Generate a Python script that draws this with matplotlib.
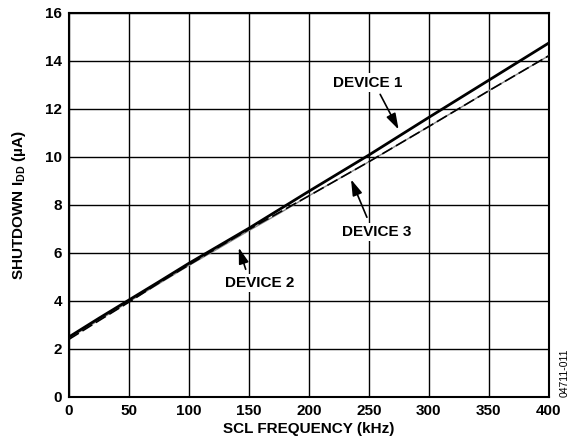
import matplotlib
matplotlib.use("Agg")
import matplotlib.pyplot as plt

freq = [0, 25, 50, 75, 100, 125, 150, 175, 200, 250, 300, 350, 400]
device1 = [2.5, 3.28, 4.04, 4.8, 5.57, 6.3, 7.03, 7.8, 8.57, 10.08, 11.65, 13.2, 14.75]
device2 = [2.45, 3.2, 3.97, 4.72, 5.48, 6.2, 6.93, 7.64, 8.38, 9.8, 11.27, 12.76, 14.22]
device3 = [2.4, 3.18, 3.95, 4.75, 5.5, 6.25, 6.98, 7.68, 8.38, 9.8, 11.27, 12.76, 14.22]
xticks = [0, 50, 100, 150, 200, 250, 300, 350, 400]
yticks = [0, 2, 4, 6, 8, 10, 12, 14, 16]

plt.rcParams['font.family'] = ['Liberation Sans', 'DejaVu Sans']
plt.rcParams['mathtext.fontset'] = 'custom'
plt.rcParams['mathtext.rm'] = 'Liberation Sans:bold'
plt.rcParams['mathtext.bf'] = 'Liberation Sans:bold'
plt.rcParams['mathtext.it'] = 'Liberation Sans:bold'

fig = plt.figure(figsize=(5.7, 4.46), dpi=100)
ax = fig.add_axes([0.121, 0.110, 0.842, 0.861])

ax.plot(freq, device2, color='#888888', lw=1.0, zorder=3)
ax.plot(freq, device3, color='black', lw=1.2, ls=(0, (7, 2.5)), zorder=4)
ax.plot(freq, device1, color='black', lw=2.0, zorder=5)

ax.set_xlim(0, 400)
ax.set_ylim(0, 16)
ax.set_xticks(xticks)
ax.set_yticks(yticks)
ax.tick_params(length=0, labelsize=11, pad=5)
for lab in ax.get_xticklabels() + ax.get_yticklabels():
    lab.set_fontweight('bold')
ax.grid(True, color='black', lw=1.0)
ax.set_axisbelow(True)
for s in ax.spines.values():
    s.set_linewidth(1.5)

ax.set_xlabel('SCL FREQUENCY (kHz)', fontsize=11, fontweight='bold', labelpad=3)
ax.set_ylabel('SHUTDOWN I$_{DD}$ (µA)', fontsize=11, fontweight='bold', labelpad=12)

bbox = dict(boxstyle='square,pad=0.15', fc='white', ec='none')
ax.text(249, 13.1, 'DEVICE 1', ha='center', va='center', fontsize=11, fontweight='bold', bbox=bbox, zorder=6)
ax.annotate('', xy=(275.8, 11.04), xytext=(258.3, 12.71),
            arrowprops=dict(arrowstyle='-|>,head_length=0.8,head_width=0.25', color='black', lw=1.2, mutation_scale=12), zorder=6)
ax.text(256.7, 6.88, 'DEVICE 3', ha='center', va='center', fontsize=11, fontweight='bold', bbox=bbox, zorder=6)
ax.annotate('', xy=(234.2, 9.17), xytext=(249.2, 7.38),
            arrowprops=dict(arrowstyle='-|>,head_length=0.8,head_width=0.25', color='black', lw=1.2, mutation_scale=12), zorder=6)
ax.text(159, 4.75, 'DEVICE 2', ha='center', va='center', fontsize=11, fontweight='bold', bbox=bbox, zorder=6)
ax.annotate('', xy=(140.8, 6.33), xytext=(148, 5.21),
            arrowprops=dict(arrowstyle='-|>,head_length=0.8,head_width=0.25', color='black', lw=1.2, mutation_scale=12), zorder=6)

fig.text(0.991, 0.165, '04711-011', rotation=90, ha='center', va='center', fontsize=7.5)

fig.savefig('out.png', dpi=100)
